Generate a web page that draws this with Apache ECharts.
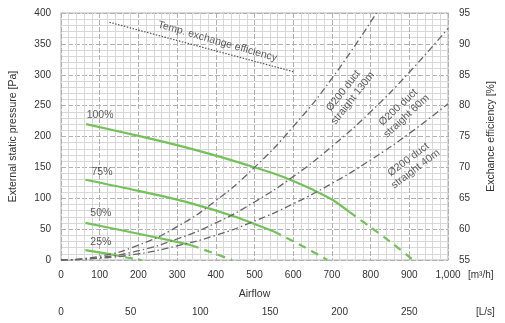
<!DOCTYPE html>
<html>
<head>
<meta charset="utf-8">
<script src="https://cdn.jsdelivr.net/npm/echarts@6/dist/echarts.min.js"></script>
<style>
  html, body { margin: 0; padding: 0; background: #fff; }
  #chart { width: 505px; height: 323px; }
</style>
</head>
<body>
<div id="chart"></div>
<script>
// fan curves [airflow m3/h, static pressure Pa]
const fan100 = [[65, 220], [200, 201], [300, 186], [400, 169], [480, 154], [550, 140], [600, 128], [650, 114], [700, 98], [745, 78]];
const fan100Ext = [[745, 78], [800, 53], [850, 30], [910, 0]];
const fan75 = [[63, 130], [200, 112], [330, 93], [450, 70], [550, 46]];
const fan75Ext = [[550, 46], [620, 24], [688, 0]];
const fan50 = [[63, 60], [150, 49], [250, 36], [336, 24]];
const fan50Ext = [[336, 24], [390, 12], [442, 0]];
const fan25 = [[63, 16], [130, 9]];
const fan25Ext = [[130, 9], [170, 4], [208, 0]];

// duct system curves
const duct130 = [[0, 0], [100, 6], [200, 24], [300, 54], [400, 96], [500, 150], [600, 216], [700, 294], [815, 400]];
const duct60 = [[0, 0], [100, 4], [200, 15], [300, 34], [400, 60], [500, 94], [600, 135], [700, 184], [800, 240], [900, 304], [1000, 375]];
const duct40 = [[0, 0], [100, 3], [200, 10], [300, 23], [400, 40], [500, 63], [600, 91], [700, 124], [800, 162], [900, 205], [1000, 253]];

// temperature exchange efficiency [airflow, %]
const tempEff = [[125, 93.5], [600, 85.5]];

const fanLabels = [['100%', 101, 235], ['75%', 106, 143], ['50%', 103, 76], ['25%', 103, 29]];
const ductLabels = [
  ['Ø200 duct\nstraight 130m', 742, 268, 52],
  ['Ø200 duct\nstraight 60m', 882, 240, 43],
  ['Ø200 duct\nstraight 40m', 907, 155, 37],
];
const tempLabel = ['Temp. exchange efficiency', 404, 354, -16];

const FONT = '"Liberation Sans", Arial, sans-serif';
const GREEN = '#74c15a';
const TXT = '#333';

function fanSeries(data, dashed) {
  return {
    type: 'line',
    data: data,
    smooth: 0.3,
    symbol: 'none',
    z: 3,
    lineStyle: { color: GREEN, width: 2.2, type: dashed ? [8, 6] : 'solid' },
  };
}
function ductSeries(data) {
  return {
    type: 'line',
    data: data,
    smooth: true,
    symbol: 'none',
    z: 4,
    lineStyle: { color: '#666', width: 1.3, type: [7, 3, 1.5, 3] },
  };
}

const chart = echarts.init(document.getElementById('chart'));
chart.setOption({
  animation: false,
  textStyle: { fontFamily: FONT },
  grid: { left: 60, right: 49, top: 13, bottom: 63, show: true, borderColor: '#cccccc', borderWidth: 1.5 },
  xAxis: [
    {
      type: 'value', min: 0, max: 1000, interval: 100,
      name: '[m³/h]', nameLocation: 'end', nameGap: 20,
      nameTextStyle: { color: TXT, fontSize: 10, verticalAlign: 'top', padding: [10, 0, 0, 0] },
      axisLine: { show: false }, axisTick: { show: false },
      axisLabel: { color: TXT, fontSize: 10, margin: 10, formatter: v => (v === 1000 ? '1,000' : String(v)) },
      splitLine: { show: true, lineStyle: { color: '#b0b0b0', type: [5, 2], width: 1 } },
      minorSplitLine: { show: true, lineStyle: { color: '#d8d8d8', width: 1 } },
      minorTick: { show: false, splitNumber: 5 },
    },
    {
      type: 'value', min: 0, max: 1000 / 3.6, interval: 50, position: 'bottom', offset: 37,
      name: '[L/s]', nameLocation: 'end', nameGap: 28,
      nameTextStyle: { color: TXT, fontSize: 10, verticalAlign: 'top', padding: [10, 0, 0, 0] },
      axisLine: { show: false }, axisTick: { show: false },
      axisLabel: { color: TXT, fontSize: 10, margin: 10, showMaxLabel: false },
      splitLine: { show: false },
    },
    {
      type: 'value', min: 0, max: 1000, position: 'bottom',
      name: 'Airflow', nameLocation: 'middle', nameGap: 29,
      nameTextStyle: { color: TXT, fontSize: 10.5 },
      axisLine: { show: false }, axisTick: { show: false }, axisLabel: { show: false },
      splitLine: { show: false },
    },
  ],
  yAxis: [
    {
      type: 'value', min: 0, max: 400, interval: 50,
      name: 'External static pressure [Pa]', nameLocation: 'middle', nameGap: 42, nameRotate: 90,
      nameTextStyle: { color: TXT, fontSize: 10.5 },
      axisLine: { show: false }, axisTick: { show: false },
      axisLabel: { color: TXT, fontSize: 10, margin: 10 },
      splitLine: { show: true, lineStyle: { color: '#b0b0b0', type: [5, 2], width: 1 } },
      minorSplitLine: { show: true, lineStyle: { color: '#d8d8d8', width: 1 } },
      minorTick: { show: false, splitNumber: 5 },
    },
    {
      type: 'value', min: 55, max: 95, interval: 5, position: 'right',
      name: 'Exchance efficiency [%]', nameLocation: 'middle', nameGap: 38, nameRotate: 90,
      nameTextStyle: { color: TXT, fontSize: 10.5 },
      axisLine: { show: false }, axisTick: { show: false },
      axisLabel: { color: TXT, fontSize: 10, margin: 11 },
      splitLine: { show: false },
    },
  ],
  series: [
    fanSeries(fan100), fanSeries(fan100Ext, true),
    fanSeries(fan75), fanSeries(fan75Ext, true),
    fanSeries(fan50), fanSeries(fan50Ext, true),
    fanSeries(fan25), fanSeries(fan25Ext, true),
    ductSeries(duct130), ductSeries(duct60), ductSeries(duct40),
    {
      type: 'line', yAxisIndex: 1, data: tempEff, symbol: 'none', z: 4,
      lineStyle: { color: '#555', width: 1.2, type: [1.5, 1.5] },
    },
    {
      type: 'scatter', symbolSize: 0, z: 6, silent: true,
      data: fanLabels.map(d => ({ value: [d[1], d[2]], name: d[0] })),
      label: { show: true, position: 'inside', formatter: p => p.name, color: TXT, fontSize: 10.5 },
    },
    {
      type: 'scatter', symbolSize: 0, z: 6, silent: true,
      data: ductLabels.concat([tempLabel]).map(d => ({
        value: [d[1], d[2]], name: d[0],
        label: { rotate: d[3] },
      })),
      label: { show: true, position: 'inside', formatter: p => p.name, color: TXT, fontSize: 10.5, lineHeight: 12, align: 'center' },
    },
  ],
});
</script>
</body>
</html>
